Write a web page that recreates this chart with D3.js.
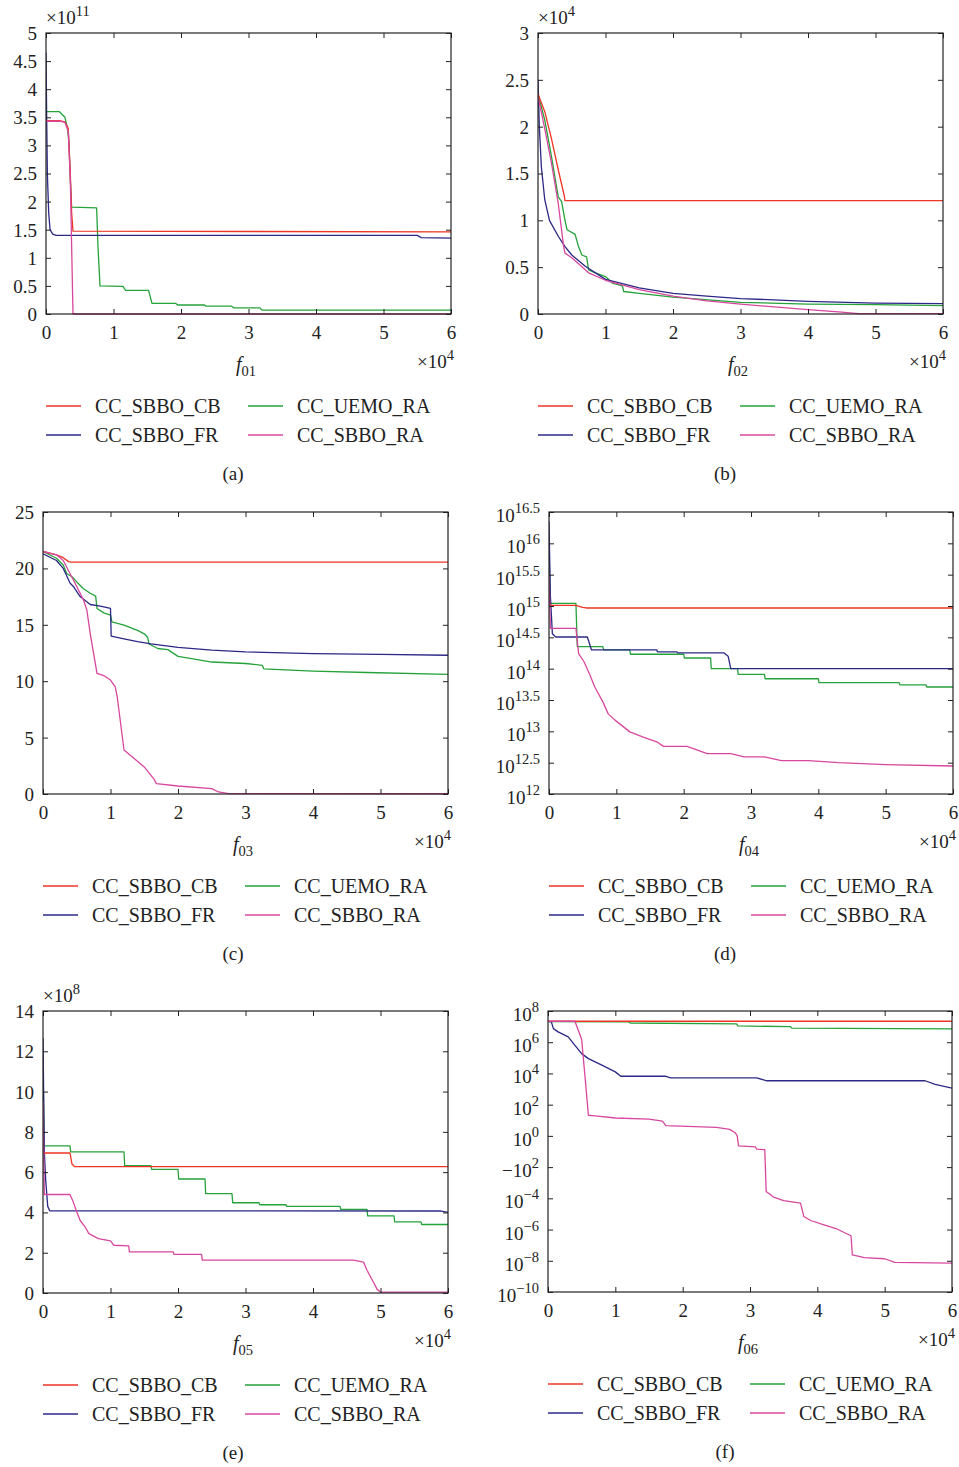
<!DOCTYPE html>
<html><head><meta charset="utf-8">
<script src="https://cdn.jsdelivr.net/npm/d3@7"></script>
<style>
body{margin:0;background:#fff}
svg text{font-family:"Liberation Serif","DejaVu Serif",serif;fill:#222}
</style>
</head><body>
<svg id="c" width="959" height="1467"></svg>
<script>
// ---------------- DATA ----------------
const seriesNames = ["CC_SBBO_CB","CC_SBBO_FR","CC_UEMO_RA","CC_SBBO_RA"];
const seriesColors = ["#ee3524","#2b2886","#25a23a","#d8479f"];
const xTicks = [0,1,2,3,4,5,6];
const xTickLabels = ["0","1","2","3","4","5","6"];

// (a) f01, values x10^11
const aYTicks = [0,0.5,1,1.5,2,2.5,3,3.5,4,4.5,5];
const aYTickLabels = ["0","0.5","1","1.5","2","2.5","3","3.5","4","4.5","5"];
const a_CB = [[0,3.44],[0.2,3.44],[0.28,3.42],[0.33,3.3],[0.36,2.5],[0.38,1.8],[0.4,1.475],[6,1.46]];
const a_FR = [[0,4.65],[0.01,3.5],[0.02,2.5],[0.04,1.8],[0.06,1.5],[0.1,1.42],[0.15,1.40],[5.5,1.40],[5.56,1.36],[6,1.35]];
const a_UEMO = [[0,3.6],[0.2,3.6],[0.28,3.5],[0.32,3.3],[0.34,3.05],[0.36,2.4],[0.38,1.9],[0.75,1.89],[0.77,1.2],[0.8,0.5],[1.14,0.49],[1.18,0.42],[1.52,0.42],[1.57,0.19],[1.92,0.19],[1.95,0.16],[2.35,0.16],[2.37,0.14],[2.75,0.14],[2.78,0.11],[3.17,0.11],[3.2,0.07],[6,0.07]];
const a_RA = [[0,3.43],[0.2,3.43],[0.28,3.41],[0.33,3.25],[0.36,2.4],[0.38,1.2],[0.4,0],[6,0]];

// (b) f02, values x10^4
const bYTicks = [0,0.5,1,1.5,2,2.5,3];
const bYTickLabels = ["0","0.5","1","1.5","2","2.5","3"];
const b_CB = [[0,2.35],[0.1,2.16],[0.2,1.87],[0.3,1.54],[0.39,1.26],[0.4,1.21],[6,1.21]];
const b_FR = [[0,2.5],[0.02,2.0],[0.05,1.57],[0.1,1.22],[0.17,1.0],[0.3,0.83],[0.4,0.72],[0.5,0.63],[0.7,0.51],[1.0,0.37],[1.5,0.28],[2.0,0.22],[2.5,0.19],[3,0.165],[4,0.135],[5,0.117],[6,0.11]];
const b_UEMO = [[0,2.35],[0.1,2.07],[0.2,1.68],[0.3,1.25],[0.35,1.2],[0.4,1.0],[0.43,0.9],[0.55,0.85],[0.6,0.72],[0.65,0.63],[0.72,0.61],[0.75,0.47],[0.85,0.44],[1.0,0.40],[1.1,0.33],[1.25,0.30],[1.27,0.24],[1.5,0.22],[2.0,0.18],[3.0,0.125],[4.0,0.105],[5,0.10],[6,0.09]];
const b_RA = [[0,2.32],[0.1,1.98],[0.2,1.61],[0.3,1.18],[0.38,0.72],[0.4,0.65],[0.5,0.6],[0.75,0.44],[1.0,0.36],[1.5,0.26],[2.0,0.19],[2.5,0.14],[3,0.105],[3.5,0.075],[4,0.046],[4.5,0.02],[4.75,0.005],[6,0.003]];

// (c) f03
const cYTicks = [0,5,10,15,20,25];
const cYTickLabels = ["0","5","10","15","20","25"];
const c_CB = [[0,21.5],[0.2,21.2],[0.3,20.95],[0.38,20.6],[0.42,20.56],[6,20.56]];
const c_FR = [[0,21.3],[0.2,20.7],[0.3,20.0],[0.4,18.7],[0.45,18.4],[0.55,17.5],[0.7,16.8],[0.85,16.65],[1.0,16.45],[1.01,14.0],[1.2,13.75],[1.4,13.5],[1.6,13.3],[2.0,13.0],[2.5,12.75],[3,12.6],[4,12.45],[5,12.37],[6,12.3]];
const c_UEMO = [[0,21.5],[0.2,20.9],[0.3,20.3],[0.35,19.55],[0.43,19.26],[0.5,18.8],[0.6,18.2],[0.7,17.8],[0.78,17.54],[0.8,16.45],[0.9,16.06],[1.0,15.86],[1.02,15.27],[1.2,14.97],[1.4,14.5],[1.5,14.2],[1.55,13.9],[1.57,13.3],[1.7,12.9],[1.85,12.8],[2.0,12.2],[2.2,12.0],[2.5,11.7],[3.0,11.57],[3.25,11.4],[3.27,11.1],[4.0,10.9],[4.8,10.77],[6,10.6]];
const c_RA = [[0,21.5],[0.2,21.2],[0.3,20.7],[0.4,19.55],[0.5,18.4],[0.6,17.2],[0.65,16.3],[0.7,14.2],[0.75,12.45],[0.8,10.7],[0.9,10.5],[1.0,10.1],[1.07,9.5],[1.1,8.6],[1.2,3.9],[1.5,2.4],[1.65,1.27],[1.68,0.92],[2.0,0.71],[2.5,0.47],[2.6,0.18],[2.75,0.03],[6,0.02]];

// (d) f04, log scale
const dYTickExps = [12,12.5,13,13.5,14,14.5,15,15.5,16,16.5];
const dYTickLabels = [["10","12"],["10","12.5"],["10","13"],["10","13.5"],["10","14"],["10","14.5"],["10","15"],["10","15.5"],["10","16"],["10","16.5"]];
const d_CB = [[0,1.5e15],[0.01,1.02e15],[0.4,1.02e15],[0.5,9.5e14],[0.55,9.3e14],[6,9.3e14]];
const d_FR = [[0,2.24e16],[0.02,1.5e15],[0.05,3.6e14],[0.1,3.2e14],[0.57,3.2e14],[0.63,2.0e14],[1.6,2.0e14],[1.61,1.86e14],[1.9,1.86e14],[1.91,1.78e14],[2.6,1.78e14],[2.66,1.58e14],[2.7,1.0e14],[6,1.0e14]];
const d_UEMO = [[0,7.4e15],[0.02,1.1e15],[0.4,1.1e15],[0.42,2.24e14],[0.8,2.24e14],[0.81,2.0e14],[1.2,2.0e14],[1.21,1.7e14],[2.0,1.7e14],[2.01,1.48e14],[2.4,1.48e14],[2.41,1.0e14],[2.8,1.0e14],[2.81,8.1e13],[3.2,8.1e13],[3.21,6.9e13],[4.0,6.9e13],[4.01,6.0e13],[5.2,6.0e13],[5.21,5.5e13],[5.6,5.5e13],[5.61,5.1e13],[6,5.1e13]];
const d_RA = [[0,3.3e15],[0.02,4.4e14],[0.4,4.4e14],[0.44,1.74e14],[0.52,1.29e14],[0.6,8.3e13],[0.68,5.1e13],[0.8,2.95e13],[0.88,1.9e13],[0.98,1.51e13],[1.2,9.8e12],[1.4,8.1e12],[1.6,6.8e12],[1.7,5.75e12],[2.05,5.75e12],[2.35,4.4e12],[2.7,4.4e12],[2.9,3.9e12],[3.2,3.9e12],[3.45,3.4e12],[3.85,3.4e12],[4.3,3.16e12],[5.0,2.95e12],[6,2.8e12]];

// (e) f05, values x10^8
const eYTicks = [0,2,4,6,8,10,12,14];
const eYTickLabels = ["0","2","4","6","8","10","12","14"];
const e_CB = [[0,6.95],[0.4,6.95],[0.43,6.4],[0.47,6.27],[6,6.27]];
const e_FR = [[0,12.65],[0.02,7.0],[0.04,5.6],[0.07,4.3],[0.1,4.08],[5.9,4.07],[6,4.0]];
const e_UEMO = [[0,10.9],[0.02,7.3],[0.4,7.3],[0.41,7.01],[1.2,7.01],[1.21,6.32],[1.6,6.32],[1.61,6.14],[2.0,6.14],[2.01,5.66],[2.4,5.66],[2.41,4.93],[2.8,4.93],[2.81,4.48],[3.2,4.48],[3.21,4.38],[3.6,4.38],[3.61,4.3],[4.4,4.3],[4.41,4.15],[4.8,4.15],[4.81,3.83],[5.2,3.83],[5.21,3.53],[5.6,3.53],[5.61,3.4],[6,3.4]];
const e_RA = [[0,9.5],[0.02,4.89],[0.4,4.89],[0.45,4.5],[0.5,4.03],[0.55,3.6],[0.62,3.3],[0.68,2.95],[0.82,2.7],[1.0,2.59],[1.05,2.37],[1.27,2.34],[1.28,2.04],[1.93,2.04],[1.94,1.92],[2.35,1.92],[2.36,1.63],[4.6,1.63],[4.75,1.53],[4.8,1.13],[4.88,0.63],[4.95,0.18],[5.0,0.05],[6,0.04]];

// (f) f06, log scale
const fYTickExps = [-10,-8,-6,-4,-2,0,2,4,6,8];
const fYTickLabels = [["10","\u221210"],["10","\u22128"],["10","\u22126"],["10","\u22124"],["\u221210","2"],["10","0"],["10","2"],["10","4"],["10","6"],["10","8"]];
const f_CB = [[0,2.2e7],[6,2.2e7]];
const f_FR = [[0,2.2e7],[0.05,2.0e7],[0.08,7.4e6],[0.15,4.6e6],[0.3,2.2e6],[0.4,6.3e5],[0.5,1.86e5],[0.6,8.9e4],[0.7,5.5e4],[0.8,3.4e4],[1.0,1.26e4],[1.08,6.6e3],[1.75,6.6e3],[1.82,5.2e3],[3.1,5.2e3],[3.25,3.4e3],[5.6,3.4e3],[5.75,2.0e3],[6,1.15e3]];
const f_UEMO = [[0,2.1e7],[1.2,2.0e7],[1.22,1.7e7],[2.8,1.5e7],[2.82,1.1e7],[3.6,1.0e7],[3.62,8.0e6],[6,7.2e6]];
const f_RA = [[0,2.2e7],[0.4,2.2e7],[0.45,5.8e6],[0.5,1.5e6],[0.55,6.0e3],[0.6,21],[0.7,19],[1.0,14],[1.5,12],[1.7,8.9],[1.75,4.5],[2.5,3.5],[2.7,2.6],[2.78,1.6],[2.81,1.0],[2.83,0.23],[3.08,0.2],[3.1,0.14],[3.22,0.13],[3.24,2.7e-4],[3.35,1.2e-4],[3.5,7.2e-5],[3.75,4.9e-5],[3.8,6.8e-6],[3.9,3.8e-6],[4.1,2.0e-6],[4.3,1.05e-6],[4.5,4.0e-7],[4.52,2.4e-8],[4.7,1.6e-8],[5.0,1.35e-8],[5.15,7.9e-9],[6,7.1e-9]];

// ---------------- LAYOUT ----------------
const layout = {
  a:{L:46,R:451,T:33,B:314,cap:233},
  b:{L:538,R:943,T:33,B:314,cap:725},
  c:{L:43,R:448,T:512,B:794,cap:233},
  d:{L:549,R:953,T:512,B:794,cap:725},
  e:{L:43,R:448,T:1011,B:1293,cap:233},
  f:{L:548,R:952,T:1011,B:1292,cap:725}
};
const panels = [
  {id:"a", log:false, dom:[0,5], ticks:aYTicks, labels:aYTickLabels, mult:"11", sub:"01", series:[a_CB,a_FR,a_UEMO,a_RA]},
  {id:"b", log:false, dom:[0,3], ticks:bYTicks, labels:bYTickLabels, mult:"4", sub:"02", series:[b_CB,b_FR,b_UEMO,b_RA]},
  {id:"c", log:false, dom:[0,25], ticks:cYTicks, labels:cYTickLabels, mult:null, sub:"03", series:[c_CB,c_FR,c_UEMO,c_RA]},
  {id:"d", log:true, dom:[1e12,Math.pow(10,16.5)], ticks:dYTickExps.map(e=>Math.pow(10,e)), labels:dYTickLabels, mult:null, sub:"04", series:[d_CB,d_FR,d_UEMO,d_RA]},
  {id:"e", log:false, dom:[0,14], ticks:eYTicks, labels:eYTickLabels, mult:"8", sub:"05", series:[e_CB,e_FR,e_UEMO,e_RA]},
  {id:"f", log:true, dom:[1e-10,1e8], ticks:fYTickExps.map(e=>Math.pow(10,e)), labels:fYTickLabels, mult:null, sub:"06", series:[f_CB,f_FR,f_UEMO,f_RA]}
];
const FS = 19, SFS = 14.5, LFS = 20;
const svg = d3.select("#c");
const drawOrder = [2,1,0,3];
const legendPos = [[0,0],[0,1],[1,0],[1,1]]; // [col,row] per series index

panels.forEach(p=>{
  const g = layout[p.id];
  const x = d3.scaleLinear().domain([0,6]).range([g.L,g.R]);
  const y = (p.log ? d3.scaleLog() : d3.scaleLinear()).domain(p.dom).range([g.B,g.T]);
  const root = svg.append("g");

  root.append("clipPath").attr("id","clip"+p.id).append("rect")
    .attr("x",g.L).attr("y",g.T-1).attr("width",g.R-g.L).attr("height",g.B-g.T+2);

  // lines
  const line = d3.line().x(d=>x(d[0])).y(d=>y(d[1]));
  const lg = root.append("g").attr("clip-path","url(#clip"+p.id+")");
  drawOrder.forEach(i=>{
    lg.append("path").datum(p.series[i]).attr("d",line)
      .attr("fill","none").attr("stroke",seriesColors[i]).attr("stroke-width",1.3)
      .attr("stroke-linejoin","round");
  });

  // axes
  const axB = root.append("g").attr("transform",`translate(0,${g.B})`)
    .call(d3.axisBottom(x).tickValues(xTicks).tickSizeInner(-5).tickSizeOuter(0).tickFormat((d,i)=>xTickLabels[i]));
  axB.selectAll("text").attr("y",25).attr("dy",0).attr("font-size",FS);
  root.append("g").attr("transform",`translate(0,${g.T})`)
    .call(d3.axisTop(x).tickValues(xTicks).tickSizeInner(-5).tickSizeOuter(0).tickFormat(""));
  const axL = root.append("g").attr("transform",`translate(${g.L},0)`)
    .call(d3.axisLeft(y).tickValues(p.ticks).tickSizeInner(-5).tickSizeOuter(0).tickPadding(9)
      .tickFormat((d,i)=> p.log ? "" : p.labels[i]));
  axL.selectAll("text").attr("font-size",FS).attr("dy","0.34em");
  if(p.log){
    axL.selectAll("text").each(function(d,i){
      const t = d3.select(this);
      t.attr("dy","0.5em");
      t.append("tspan").text(p.labels[i][0]);
      t.append("tspan").text(p.labels[i][1]).attr("font-size",SFS).attr("dy",-9);
    });
  }
  root.append("g").attr("transform",`translate(${g.R},0)`)
    .call(d3.axisRight(y).tickValues(p.ticks).tickSizeInner(-5).tickSizeOuter(0).tickFormat(""));
  root.selectAll(".domain").remove();
  root.selectAll(".tick line").attr("stroke","#222");
  root.selectAll(".tick text").attr("fill","#222").style("font-family",'"Liberation Serif",serif');
  root.append("rect").attr("x",g.L).attr("y",g.T).attr("width",g.R-g.L).attr("height",g.B-g.T)
    .attr("fill","none").attr("stroke","#222").attr("stroke-width",1.2);

  // multiplier at top
  if(p.mult){
    const t = root.append("text").attr("x",g.L).attr("y",g.T-9).attr("font-size",FS);
    t.append("tspan").text("\u00d710");
    t.append("tspan").text(p.mult).attr("font-size",SFS).attr("dy",-8);
  }
  // x multiplier
  const tx = root.append("text").attr("x",g.R+3).attr("y",g.B+54).attr("font-size",FS).attr("text-anchor","end");
  tx.append("tspan").text("\u00d710");
  tx.append("tspan").text("4").attr("font-size",SFS).attr("dy",-8);
  // x title
  const tt = root.append("text").attr("x",g.L+190).attr("y",g.B+57).attr("font-size",FS+1);
  tt.append("tspan").text("f").attr("font-style","italic");
  tt.append("tspan").text(p.sub).attr("font-size",SFS).attr("dy",5);

  // legend
  seriesNames.forEach((name,i)=>{
    const [col,row] = legendPos[i];
    const lx = g.L + col*202, ly = g.B + 92 + row*29;
    root.append("line").attr("x1",lx).attr("x2",lx+35).attr("y1",ly).attr("y2",ly)
      .attr("stroke",seriesColors[i]).attr("stroke-width",1.3);
    root.append("text").attr("x",lx+49).attr("y",ly+6.5).attr("font-size",LFS).text(name);
  });
  // caption
  root.append("text").attr("x",g.cap).attr("y",g.B+166).attr("font-size",FS).attr("text-anchor","middle").text("("+p.id+")");
});
</script>
</body></html>
